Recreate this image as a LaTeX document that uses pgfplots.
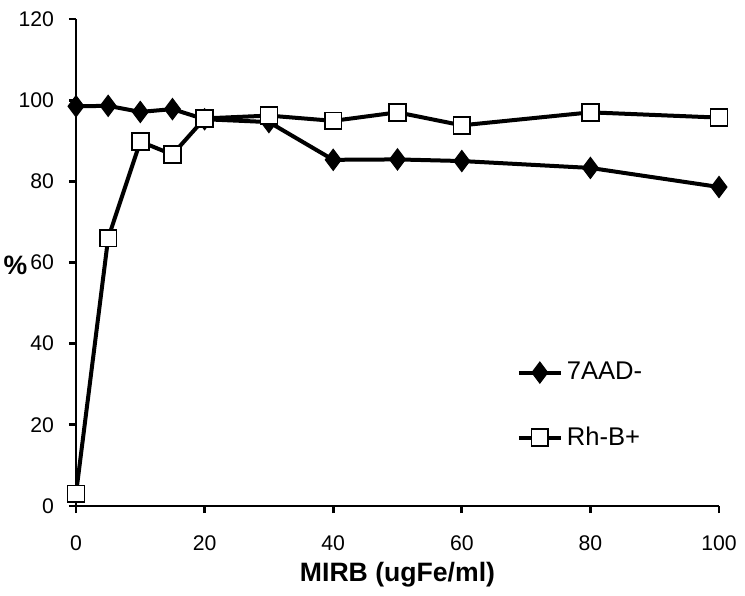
\documentclass[border=0pt]{standalone}
\usepackage{fontspec}
\setmainfont{Liberation Sans}
\usepackage{pgfplots}
\pgfplotsset{compat=1.18}

\pgfplotstableread{
x    y
0    98.5
5    98.6
10   97.1
15   97.8
20   95.3
30   94.6
40   85.3
50   85.4
60   85.0
80   83.3
100  78.6
}\aad

\pgfplotstableread{
x    y
0    3.0
5    66.0
10   89.8
15   86.6
20   95.5
30   96.2
40   94.9
50   97.0
60   93.8
80   97.0
100  95.7
}\rhb

\begin{document}
\begin{tikzpicture}
\path[use as bounding box] (-38pt,-44.5pt) rectangle (334.5pt,253pt);
\begin{axis}[
  at={(0,0)}, anchor=origin,
  scale only axis, width=321.5pt, height=243.5pt,
  xmin=0, xmax=100, ymin=0, ymax=120, enlargelimits=false, clip=false,
  axis lines=left, axis line style={-, line width=1.4pt},
  xtick={0,20,...,100}, ytick={0,20,...,120},
  tick align=outside, major tick length=3.5pt,
  tick style={line width=1.4pt, black},
  /pgf/number format/assume math mode=true,
  ticklabel style={font=\fontsize{10.6}{12}\selectfont},
  yticklabel style={xshift=-4pt},
  xticklabel style={yshift=-8pt},
  xlabel={MIRB (ugFe/ml)}, ylabel={\%},
  label style={font=\fontsize{13.3}{15}\selectfont\bfseries},
  xlabel style={at={(axis description cs:0.5,-0.142)}, anchor=center},
  ylabel style={at={(axis description cs:-0.094,0.495)}, anchor=center, rotate=-90},
  legend style={at={(axis cs:68.5,36.5)}, anchor=north west, draw=none, fill=none,
    font=\fontsize{12.8}{14}\selectfont, row sep=18pt, inner sep=0pt},
  legend cell align=left,
  legend image code/.code={\draw[mark repeat=2,mark phase=2]
    plot coordinates {(0pt,0pt)(10.5pt,0pt)(21pt,0pt)};},
]
  \addplot[black, line width=2pt, mark=diamond*, mark size=5.3pt,
    mark options={solid, fill=black, line width=0.5pt}] table {\aad};
  \addlegendentry{7AAD-}
  \addplot[black, line width=2pt, mark=square*, mark size=4.2pt,
    mark options={solid, fill=white, line width=0.8pt}] table {\rhb};
  \addlegendentry{Rh-B+}
\end{axis}
\end{tikzpicture}
\end{document}
